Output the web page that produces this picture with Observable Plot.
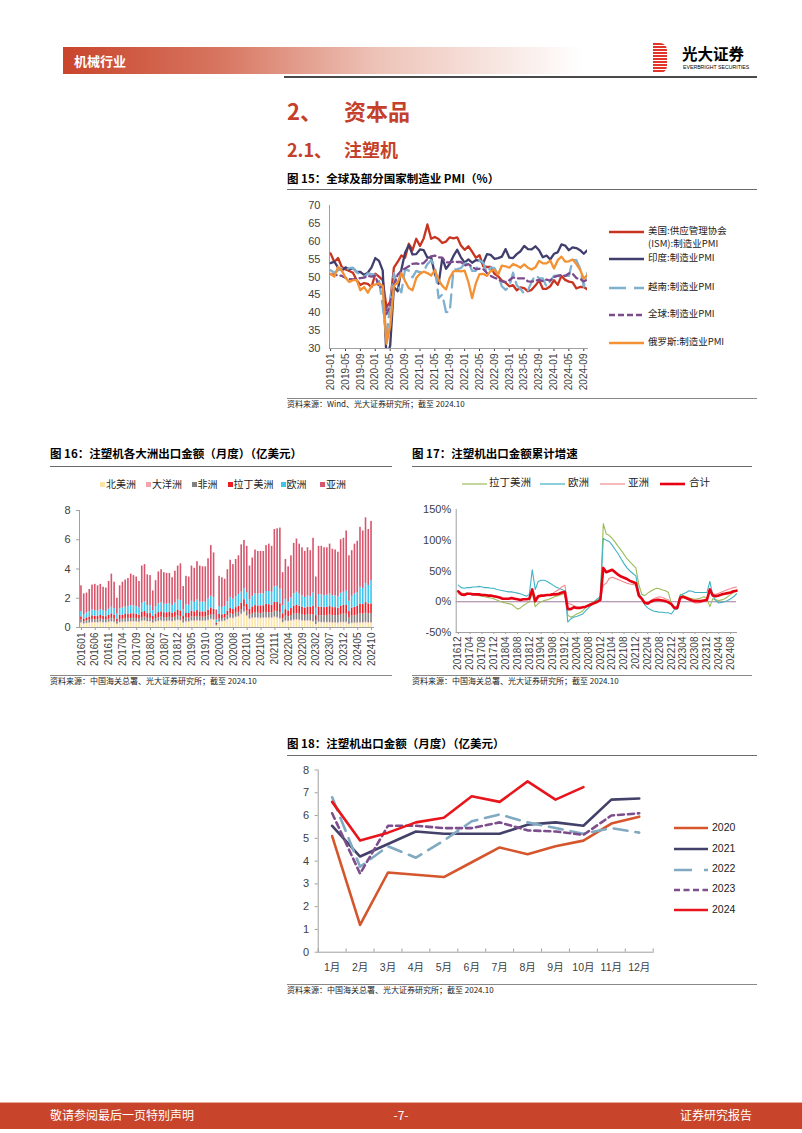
<!DOCTYPE html>
<html><head><meta charset="utf-8">
<script src="https://cdn.jsdelivr.net/npm/d3@7"></script>
<script src="https://cdn.jsdelivr.net/npm/@observablehq/plot@0.6"></script>
<style>
body{margin:0;background:#fff;}
#page{position:relative;width:802px;height:1133px;overflow:hidden;background:#fff;font-family:"Noto Sans CJK SC","Noto Sans",sans-serif;}
.t{position:absolute;white-space:nowrap;line-height:1;}
.hr{position:absolute;height:0;border-top:1px solid #6b6b6b;}
</style></head><body><div id="page"></div>
<script>
// ---------------- DATA ----------------
// Fig 15 PMI, 2019-01 .. 2024-10
const pmiUS = [56.6,54.2,55.3,52.8,52.1,51.7,51.2,49.1,47.8,48.3,48.1,47.2,
 50.9,50.1,49.1,41.5,43.1,52.6,54.2,56.0,55.4,59.3,57.5,60.7,
 58.7,60.8,64.7,60.7,61.2,60.6,59.5,59.9,61.1,60.8,61.1,58.8,
 57.6,58.6,57.1,55.4,56.1,53.0,52.8,52.8,50.9,50.2,49.0,48.4,
 47.4,47.7,46.3,47.1,46.9,46.0,46.4,47.6,49.0,46.7,46.7,47.4,
 49.1,47.8,50.3,49.2,48.7,48.5,46.8,47.2,47.2,46.5];
const pmiIndia = [53.9,54.3,52.6,51.8,52.7,52.1,52.5,51.4,51.4,50.6,51.2,52.7,
 55.3,54.5,51.8,27.4,30.8,47.2,46.0,52.0,56.8,58.9,56.3,56.4,
 57.7,57.5,55.4,55.5,50.8,48.1,55.3,52.3,53.7,55.9,57.6,55.5,
 54.0,54.9,54.0,54.7,54.6,53.9,56.4,56.2,55.1,55.3,55.7,57.8,
 55.4,55.3,56.4,57.2,58.7,57.8,57.7,58.6,57.5,55.5,56.0,54.9,
 56.5,56.9,59.1,58.8,57.5,58.3,58.1,57.5,56.5,57.5];
const pmiVietnam = [51.9,51.2,51.9,52.5,52.0,52.5,52.6,51.4,50.5,50.0,51.0,50.8,
 50.6,49.0,41.9,32.7,42.7,51.1,47.6,45.7,52.2,51.8,49.9,51.7,
 51.3,51.6,53.6,54.7,53.1,44.1,45.1,40.2,40.2,52.1,52.2,52.5,
 53.7,54.3,51.7,51.7,54.7,54.0,51.2,52.7,52.5,50.6,47.4,46.4,
 47.4,51.2,47.7,46.7,45.3,46.2,48.7,50.5,49.7,49.6,47.3,48.9,
 50.3,50.4,49.9,50.3,50.3,54.7,54.7,52.4,47.3,51.2];
const pmiGlobal = [50.8,50.6,50.5,50.3,49.8,49.4,49.3,49.5,49.7,49.8,50.3,50.1,
 50.4,47.1,47.3,39.6,42.4,47.9,50.6,51.8,52.4,53.0,53.7,53.8,
 53.6,53.9,55.0,55.8,56.0,55.5,55.4,54.1,54.1,54.3,54.2,54.2,
 53.2,53.6,52.9,52.2,52.3,52.2,51.1,50.3,49.8,49.4,48.8,48.6,
 49.1,49.9,49.6,49.6,49.6,48.8,48.7,49.0,49.2,48.8,49.3,49.0,
 50.0,50.3,50.6,50.3,51.0,50.9,49.7,49.5,48.7,49.4];
const pmiRussia = [50.9,50.1,52.8,51.8,49.8,48.6,49.1,49.1,46.3,47.2,45.6,47.5,
 47.9,48.2,47.5,31.3,36.2,47.6,48.4,51.1,48.9,46.9,46.3,49.7,
 50.9,51.5,51.1,50.4,51.9,49.2,47.5,46.5,49.8,51.6,51.7,51.6,
 51.8,48.6,44.1,48.2,50.8,50.9,50.3,51.7,52.0,50.7,53.2,53.0,
 52.6,53.6,53.2,52.6,53.5,52.6,52.1,52.7,54.5,53.8,53.8,54.6,
 52.4,54.7,55.7,54.3,54.4,54.9,53.6,52.1,49.5,50.6];
const pmiYTicks = [30,35,40,45,50,55,60,65,70];
const pmiTickLabels = ["2019-01","2019-05","2019-09","2020-01","2020-05","2020-09","2021-01","2021-05","2021-09","2022-01","2022-05","2022-09","2023-01","2023-05","2023-09","2024-01","2024-05","2024-09"];

// Fig 16 stacked bars, 201601 .. 202410 (亿美元)
const naVals = [.28,.22,.25,.27,.30,.30,.30,.32,.30,.30,.32,.35,
 .32,.20,.30,.32,.33,.35,.35,.36,.35,.33,.38,.40,
 .36,.36,.28,.35,.38,.40,.38,.38,.40,.37,.40,.45,
 .42,.28,.35,.35,.40,.40,.42,.40,.40,.40,.44,.50,
 .48,.10,.35,.38,.40,.50,.60,.58,.65,.70,.85,1.00,
 .75,.55,.60,.62,.60,.58,.60,.62,.60,.60,.65,.62,
 .55,.30,.40,.38,.42,.45,.48,.45,.42,.40,.42,.40,
 .35,.18,.32,.30,.30,.30,.30,.28,.28,.27,.30,.30,
 .30,.20,.25,.26,.27,.28,.28,.30,.28,.28];
const ocVals = [.05,.03,.04,.05,.05,.05,.04,.05,.05,.04,.05,.06,
 .05,.03,.05,.05,.05,.05,.05,.05,.05,.04,.06,.06,
 .05,.05,.04,.05,.05,.06,.05,.05,.05,.05,.05,.06,
 .06,.04,.05,.05,.06,.05,.06,.05,.05,.05,.06,.07,
 .06,.02,.04,.04,.04,.05,.06,.05,.06,.06,.07,.08,
 .07,.05,.06,.06,.06,.06,.06,.06,.06,.06,.07,.07,
 .07,.04,.05,.05,.05,.06,.06,.06,.06,.05,.06,.06,
 .06,.03,.05,.05,.05,.05,.05,.05,.05,.05,.06,.06,
 .06,.04,.05,.05,.05,.06,.06,.06,.06,.06];
const afVals = [.18,.15,.17,.18,.20,.18,.19,.20,.18,.17,.20,.22,
 .20,.14,.20,.20,.21,.22,.22,.22,.21,.20,.24,.25,
 .22,.22,.18,.22,.24,.25,.24,.24,.24,.22,.25,.27,
 .27,.18,.24,.24,.27,.26,.28,.26,.26,.26,.29,.32,
 .30,.08,.22,.20,.20,.24,.27,.25,.27,.28,.30,.32,
 .30,.25,.30,.32,.32,.32,.33,.35,.35,.35,.40,.40,
 .40,.25,.32,.30,.35,.40,.42,.40,.40,.38,.40,.40,
 .45,.25,.45,.45,.45,.48,.50,.48,.48,.47,.52,.55,
 .55,.40,.48,.50,.52,.58,.58,.62,.60,.62];
const laVals = [.22,.18,.20,.22,.25,.24,.22,.25,.24,.23,.26,.30,
 .28,.20,.28,.28,.30,.30,.32,.31,.30,.28,.35,.38,
 .32,.32,.25,.30,.35,.36,.34,.34,.35,.32,.36,.40,
 .38,.25,.32,.32,.38,.36,.40,.36,.36,.36,.40,.45,
 .42,.10,.28,.25,.25,.32,.38,.35,.38,.42,.45,.50,
 .45,.40,.45,.50,.50,.52,.50,.55,.55,.52,.60,.62,
 .60,.35,.45,.40,.48,.55,.58,.55,.52,.50,.52,.52,
 .60,.35,.58,.58,.56,.56,.58,.55,.55,.52,.58,.60,
 .62,.45,.55,.58,.60,.68,.65,.72,.68,.65];
const euVals = [.35,.30,.33,.36,.40,.38,.37,.40,.38,.36,.42,.45,
 .45,.35,.45,.48,.50,.52,.55,.54,.52,.48,.62,.66,
 .55,.55,.40,.50,.60,.62,.58,.58,.60,.55,.62,.70,
 .72,.45,.58,.56,.68,.65,.72,.66,.66,.66,.75,.80,
 .80,.20,.55,.50,.55,.65,.75,.70,.75,.80,.75,.75,
 .80,.65,.72,.80,.80,.82,.82,.88,.90,.88,1.05,1.10,
 1.00,.55,.70,.60,.72,.85,.88,.82,.75,.72,.75,.72,
 .90,.50,.85,.85,.82,.82,.85,.80,.80,.78,.88,.90,
 .95,.70,.80,.90,.95,1.15,1.10,1.30,1.25,1.60];
const asVals = [1.77,1.42,1.36,1.52,1.70,1.80,1.73,1.73,1.60,1.60,1.90,2.27,
 1.80,1.08,1.57,1.77,1.86,1.91,2.16,2.07,2.02,1.82,2.55,2.55,
 2.10,2.05,1.35,1.78,2.18,2.26,2.16,2.11,2.06,1.89,2.17,2.32,
 2.50,1.60,1.96,1.93,2.41,2.33,2.62,2.47,2.42,2.42,2.76,3.46,
 3.04,0.70,2.06,2.03,1.86,2.19,2.54,2.37,2.54,2.64,3.23,3.30,
 3.18,2.30,2.62,3.00,2.92,2.90,2.89,3.14,3.24,3.14,3.93,3.94,
 4.18,2.26,2.73,2.42,2.88,3.44,3.63,3.42,3.30,3.15,3.30,3.15,
 3.74,2.14,3.30,3.32,3.27,3.24,3.42,3.19,3.14,3.06,3.66,3.69,
 4.12,3.11,3.12,3.41,3.51,4.10,3.93,4.50,3.83,4.04];
const regionNames = ["北美洲","大洋洲","非洲","拉丁美洲","欧洲","亚洲"];
const bar16YTicks = [0,2,4,6,8];
const bar16TickLabels = ["201601","201606","201611","201704","201709","201802","201807","201812","201905","201910","202003","202008","202101","202106","202111","202204","202209","202302","202307","202312","202405","202410"];

// Fig 17 cumulative growth (%), 201612 .. 202410
const la17 = [17,14,13,14,13,12,11,10,9,8,7,6,5,
 3,1,-1,-2,-3,-4,-8,-12,-10,-6,-3,0,
 15,-8,-3,0,2,3,5,7,9,10,12,13,
 -22,-25,-23,-20,-18,-15,-10,-5,-2,1,3,5,
 127,110,108,103,97,90,84,77,70,65,60,55,
 28,12,10,14,17,20,22,21,19,18,15,-3,
 -10,-8,12,10,8,6,5,4,5,6,8,5,
 -8,5,3,2,3,5,8,12,15,18];
const eu17 = [27,23,22,23,23,24,24,25,24,23,23,22,22,
 20,19,18,17,16,16,15,14,13,11,9,12,
 52,20,33,35,35,33,30,27,24,22,20,18,
 -33,-28,-25,-24,-22,-20,-15,-10,-5,0,5,8,
 103,100,98,92,85,78,70,62,55,50,46,42,
 15,5,-5,-10,-13,-15,-16,-17,-17,-18,-18,-20,
 -13,-12,10,13,15,18,17,15,15,15,15,15,
 33,10,2,-2,-1,0,2,5,8,13];
const as17 = [13,12,12,13,13,12,12,11,11,10,10,9,8,
 7,6,5,5,4,5,5,4,4,5,5,6,
 18,2,6,8,9,11,12,14,17,20,24,27,
 -2,-4,-6,-9,-10,-9,-8,-6,-4,-2,0,2,
 27,30,38,40,38,36,34,32,30,29,28,27,
 8,4,0,-2,2,5,7,8,7,5,3,-5,
 -10,-8,5,7,5,3,0,-2,-2,-1,1,3,
 18,12,12,14,16,18,20,21,23,24];
const tot17 = [17,12,11,13,13,12,12,12,11,11,10,10,9,
 8,7,5,5,5,6,5,4,3,4,4,5,
 20,1,9,10,10,11,11,12,12,13,15,16,
 -12,-12,-9,-10,-10,-9,-8,-6,-4,-2,0,3,
 55,48,50,52,48,44,41,39,37,34,32,30,
 10,5,-2,-3,0,2,3,3,2,1,-1,-4,
 -10,-10,7,8,6,4,2,1,1,1,2,3,
 20,10,9,10,12,13,14,15,17,18];
const g17YTicks = [-50,0,50,100,150];
const g17TickLabels = ["201612","201704","201708","201712","201804","201808","201812","201904","201908","201912","202004","202008","202012","202104","202108","202112","202204","202208","202212","202304","202308","202312","202404","202408"];

// Fig 18 monthly export (亿美元)
const m18Labels = ["1月","2月","3月","4月","5月","6月","7月","8月","9月","10月","11月","12月"];
const y2020 = [5.1,1.2,3.5,3.4,3.3,3.95,4.6,4.3,4.65,4.9,5.65,5.95];
const y2021 = [5.55,4.2,4.75,5.3,5.2,5.2,5.2,5.6,5.7,5.55,6.7,6.75];
const y2022 = [6.8,3.75,4.65,4.15,4.9,5.75,6.05,5.7,5.45,5.2,5.45,5.25];
const y2023 = [6.1,3.45,5.55,5.55,5.45,5.45,5.7,5.35,5.3,5.15,6.0,6.1];
const y2024 = [6.6,4.9,5.25,5.7,5.9,6.85,6.6,7.5,6.7,7.25];
const m18YTicks = [0,1,2,3,4,5,6,7,8];

// ---------------- PAGE HELPERS ----------------
const page = document.getElementById("page");
const NUMFONT = "'Liberation Sans','Noto Sans CJK SC',sans-serif";
function txt(s, x, yc, size, opts = {}) {
  const d = document.createElement("div");
  d.className = "t";
  d.textContent = s;
  d.style.fontSize = size + "px";
  d.style.top = (yc - size / 2 - 1) + "px";
  if (opts.right !== undefined) d.style.right = opts.right + "px"; else d.style.left = x + "px";
  if (opts.center) { d.style.left = x + "px"; d.style.transform = "translateX(-50%)"; }
  d.style.color = opts.color || "#000";
  d.style.fontWeight = opts.bold ? "700" : "400";
  if (opts.font) d.style.fontFamily = opts.font;
  page.appendChild(d);
  return d;
}
function hr(x1, x2, y, color = "#6b6b6b", w = 1) {
  const d = document.createElement("div");
  d.className = "hr";
  d.style.left = x1 + "px"; d.style.width = (x2 - x1) + "px"; d.style.top = y + "px";
  d.style.borderTop = w + "px solid " + color;
  page.appendChild(d);
}
function box(x, y, w, h, css) {
  const d = document.createElement("div");
  d.style.cssText = `position:absolute;left:${x}px;top:${y}px;width:${w}px;height:${h}px;` + css;
  page.appendChild(d);
  return d;
}
function legLine(x1, x2, y, color, w, dash) {
  const ns = "http://www.w3.org/2000/svg";
  const svg = document.createElementNS(ns, "svg");
  svg.setAttribute("width", x2 - x1); svg.setAttribute("height", 10);
  svg.style.cssText = `position:absolute;left:${x1}px;top:${y - 5}px;overflow:visible`;
  const l = document.createElementNS(ns, "line");
  l.setAttribute("x1", 0); l.setAttribute("x2", x2 - x1); l.setAttribute("y1", 5); l.setAttribute("y2", 5);
  l.setAttribute("stroke", color); l.setAttribute("stroke-width", w);
  if (dash) l.setAttribute("stroke-dasharray", dash);
  svg.appendChild(l);
  page.appendChild(svg);
}
function place(el, left, top) {
  el.style.position = "absolute"; el.style.left = left + "px"; el.style.top = top + "px";
  page.appendChild(el);
}
const plotStyle = {background: "transparent", fontFamily: NUMFONT, fontSize: "10.5px", color: "#404040", overflow: "visible"};
const AX = "#a0a0a0";

// ---------------- HEADER / FOOTER ----------------
box(63, 47, 520, 27, "background:linear-gradient(to right,#C9452C 0%,#D77560 30%,#EDC2B6 60%,#FFFFFF 100%);");
txt("机械行业", 74, 61, 13, {color: "#fff", bold: true});
hr(284, 757, 76, "#4a4a4a", 2);
box(653, 43, 14, 30, "background:repeating-linear-gradient(to bottom,#E3342A 0px,#E3342A 2px,#ffffff 2px,#ffffff 3px);border-radius:0 7px 7px 0;");
txt("光大证券", 682, 54.5, 15.5, {bold: true});
txt("EVERBRIGHT SECURITIES", 683, 69, 5.2, {font: NUMFONT});
box(0, 1102, 802, 26, "background:#C8452B;border-top:1px solid #E9A898;");
txt("敬请参阅最后一页特别声明", 50, 1116, 12, {color: "#fff"});
txt("-7-", 401, 1116, 12, {color: "#fff", center: true});
txt("证券研究报告", 0, 1116, 12, {color: "#fff", right: 50});

// ---------------- HEADINGS ----------------
const RED = "#C4402A";
txt("2、", 287, 111, 22, {color: RED, bold: true});
txt("资本品", 344, 111, 22, {color: RED, bold: true});
txt("2.1、", 287, 150, 18, {color: RED, bold: true});
txt("注塑机", 344, 150, 18, {color: RED, bold: true});

// ---------------- FIG 15 ----------------
txt("图 15：全球及部分国家制造业 PMI（%）", 287, 180, 11.5, {bold: true});
hr(287, 757, 189);
const pmiSeries = [
  {name: "美国", values: pmiUS, color: "#C8341F", dash: null},
  {name: "印度", values: pmiIndia, color: "#403E6C", dash: null},
  {name: "越南", values: pmiVietnam, color: "#7FB0D0", dash: "13,7"},
  {name: "全球", values: pmiGlobal, color: "#7B4B8D", dash: "6,4"},
  {name: "俄罗斯", values: pmiRussia, color: "#F39133", dash: null}
];
const pmiMonths = d3.utcMonth.range(new Date(Date.UTC(2019,0,1)), new Date(Date.UTC(2024,10,1))).map(d3.utcFormat("%Y-%m"));
const pmiPlot = Plot.plot({
  width: 320, height: 200, marginLeft: 42, marginRight: 20, marginTop: 10, marginBottom: 47,
  style: plotStyle,
  x: {domain: [-0.3, pmiMonths.length - 1], label: null},
  y: {domain: [30, 70], label: null},
  marks: [
    Plot.axisY({ticks: pmiYTicks, tickSize: 0, tickPadding: 9, fontSize: 11, label: null}),
    Plot.axisX({ticks: pmiTickLabels.map(l => pmiMonths.indexOf(l)), tickFormat: i => pmiMonths[i], tickRotate: -90, tickSize: 3, tickPadding: 2, fontSize: 10, label: null}),
    Plot.frame({anchor: "left", stroke: AX}),
    Plot.frame({anchor: "bottom", stroke: AX}),
    ...pmiSeries.map(s => Plot.line(s.values.map((v, i) => ({i, v})), {
      x: "i", y: "v", stroke: s.color, strokeWidth: 2.3, strokeDasharray: s.dash, clip: true, strokeLinejoin: "round"
    }))
  ]
});
place(pmiPlot, 287, 195);
// legend
legLine(609, 644, 232, "#C8341F", 2.5);
txt("美国:供应管理协会", 648, 232, 9.5, {color: "#222"});
txt("(ISM):制造业PMI", 648, 245, 9.5, {color: "#222"});
legLine(609, 644, 259, "#403E6C", 2.5);
txt("印度:制造业PMI", 648, 259, 9.5, {color: "#222"});
legLine(609, 644, 287.5, "#7FB0D0", 2.5, "17,8");
txt("越南:制造业PMI", 648, 287.5, 9.5, {color: "#222"});
legLine(609, 644, 315, "#7B4B8D", 2.5, "6,3");
txt("全球:制造业PMI", 648, 315, 9.5, {color: "#222"});
legLine(609, 644, 343, "#F39133", 2.5);
txt("俄罗斯:制造业PMI", 648, 343, 9.5, {color: "#222"});
hr(287, 757, 398, "#888");
txt("资料来源：Wind、光大证券研究所；截至 2024.10", 287, 405, 8, {color: "#222"});

// ---------------- FIG 16 ----------------
txt("图 16：注塑机各大洲出口金额（月度）（亿美元）", 50, 455, 11.5, {bold: true});
hr(50, 392, 466);
const regionColors = ["#FBE4A6", "#F2A3AE", "#808080", "#EE1C25", "#3EC5EE", "#D6566D"];
const regionValues = [naVals, ocVals, afVals, laVals, euVals, asVals];
const months16 = [];
for (let y = 2016; y <= 2024; y++) for (let m = 1; m <= 12; m++) {
  if (y === 2024 && m > 10) break;
  months16.push(`${y}${String(m).padStart(2, "0")}`);
}
const bar16Data = regionNames.flatMap((r, k) => regionValues[k].map((v, i) => ({month: months16[i], region: r, value: v})));
const barPlot = Plot.plot({
  width: 345, height: 175, marginLeft: 39, marginRight: 12, marginTop: 10, marginBottom: 48,
  style: plotStyle,
  x: {type: "band", domain: months16, padding: 0.42, label: null},
  y: {domain: [0, 8], label: null},
  color: {domain: regionNames, range: regionColors},
  marks: [
    Plot.barY(bar16Data, {x: "month", y: "value", fill: "region"}),
    Plot.axisY({ticks: bar16YTicks, tickSize: 3, tickPadding: 6, fontSize: 11, stroke: AX, label: null}),
    Plot.axisX({ticks: bar16TickLabels, tickRotate: -90, tickSize: 3, tickPadding: 2, fontSize: 10, stroke: AX, label: null}),
    Plot.frame({anchor: "left", stroke: AX}),
    Plot.frame({anchor: "bottom", stroke: AX})
  ]
});
place(barPlot, 40, 500);
const leg16X = [100, 146, 191.5, 227.5, 280.5, 320];
regionNames.forEach((r, k) => {
  box(leg16X[k], 482, 5, 5, `background:${regionColors[k]};`);
  txt(r, leg16X[k] + 6, 484.5, 10, {color: "#222"});
});
hr(50, 392, 675, "#888");
txt("资料来源：中国海关总署、光大证券研究所；截至 2024.10", 50, 682, 8, {color: "#222"});

// ---------------- FIG 17 ----------------
txt("图 17：注塑机出口金额累计增速", 412, 455, 11.5, {bold: true});
hr(412, 752, 466);
const g17Series = [
  {name: "拉丁美洲", values: la17, color: "#9BBB59", w: 1.1},
  {name: "欧洲", values: eu17, color: "#3FB3C4", w: 1.1},
  {name: "亚洲", values: as17, color: "#F08A8E", w: 1.1},
  {name: "合计", values: tot17, color: "#E60012", w: 2.6}
];
const g17Months = d3.utcMonth.range(new Date(Date.UTC(2016,11,1)), new Date(Date.UTC(2024,10,1))).map(d3.utcFormat("%Y%m"));
const g17Plot = Plot.plot({
  width: 345, height: 175, marginLeft: 43.7, marginRight: 21, marginTop: 9, marginBottom: 43,
  style: plotStyle,
  x: {domain: [-0.7, g17Months.length - 1], label: null},
  y: {domain: [-50, 150], label: null},
  marks: [
    Plot.ruleY([0], {stroke: "#A07A9C", strokeWidth: 1}),
    Plot.axisY({ticks: g17YTicks, tickFormat: d => d + "%", tickSize: 0, tickPadding: 5, fontSize: 11, label: null}),
    Plot.axisX({ticks: g17TickLabels.map(l => g17Months.indexOf(l)), tickFormat: i => g17Months[i], tickRotate: -90, tickSize: 2, tickPadding: 2, fontSize: 10, stroke: AX, label: null}),
    Plot.frame({anchor: "left", stroke: AX}),
    Plot.frame({anchor: "bottom", stroke: AX}),
    ...g17Series.map(s => Plot.line(s.values.map((v, i) => ({i, v})), {x: "i", y: "v", stroke: s.color, strokeWidth: s.w, strokeLinejoin: "round"}))
  ]
});
place(g17Plot, 412, 500);
const leg17 = [[462, 487, 489], [540, 565, 568], [600, 625, 628], [660, 685, 689]];
g17Series.forEach((s, k) => {
  legLine(leg17[k][0], leg17[k][1], 483.5, s.color, s.w > 2 ? 2.6 : 1.2);
  txt(s.name, leg17[k][2], 483.5, 10.5, {color: "#222"});
});
hr(412, 752, 675, "#888");
txt("资料来源：中国海关总署、光大证券研究所；截至 2024.10", 412, 682, 8, {color: "#222"});

// ---------------- FIG 18 ----------------
txt("图 18：注塑机出口金额（月度）（亿美元）", 287, 745, 11.5, {bold: true});
hr(287, 757, 755);
const y18Series = [
  {name: "2020", values: y2020, color: "#D5552C", dash: null},
  {name: "2021", values: y2021, color: "#434169", dash: null},
  {name: "2022", values: y2022, color: "#80A9C2", dash: "14,8"},
  {name: "2023", values: y2023, color: "#7D4E8E", dash: "6,4"},
  {name: "2024", values: y2024, color: "#E8161C", dash: null}
];
const m18Bounds = d3.range(0.5, 13, 1);
const m18Plot = Plot.plot({
  width: 380, height: 220, marginLeft: 30.7, marginRight: 14.3, marginTop: 9.5, marginBottom: 28.3,
  style: plotStyle,
  x: {domain: [0.5, 12.5], label: null},
  y: {domain: [0, 8], label: null},
  marks: [
    Plot.axisY({ticks: m18YTicks, tickSize: 3, tickPadding: 6, fontSize: 11, stroke: AX, label: null}),
    Plot.axisX({ticks: d3.range(1, 13), tickFormat: i => m18Labels[i - 1], tickSize: 0, tickPadding: 11, fontSize: 10.5, label: null}),
    Plot.ruleX(m18Bounds, {y1: 0, y2: 0.14, stroke: AX}),
    Plot.frame({anchor: "left", stroke: AX}),
    Plot.frame({anchor: "bottom", stroke: AX}),
    ...y18Series.map(s => Plot.line(s.values.map((v, i) => ({m: i + 1, v})), {x: "m", y: "v", stroke: s.color, strokeWidth: 2.6, strokeDasharray: s.dash, strokeLinejoin: "round"}))
  ]
});
place(m18Plot, 287, 760);
const leg18Y = [828, 849, 869.5, 889.5, 910];
y18Series.forEach((s, k) => {
  legLine(674, 708, leg18Y[k], s.color, 2.6, s.dash ? (s.dash === "14,8" ? "18,12" : "6,3.5") : null);
  txt(s.name, 712, leg18Y[k], 10.5, {color: "#222", font: NUMFONT});
});
hr(287, 757, 984, "#888");
txt("资料来源：中国海关总署、光大证券研究所；截至 2024.10", 287, 991, 8, {color: "#222"});
</script></body></html>
